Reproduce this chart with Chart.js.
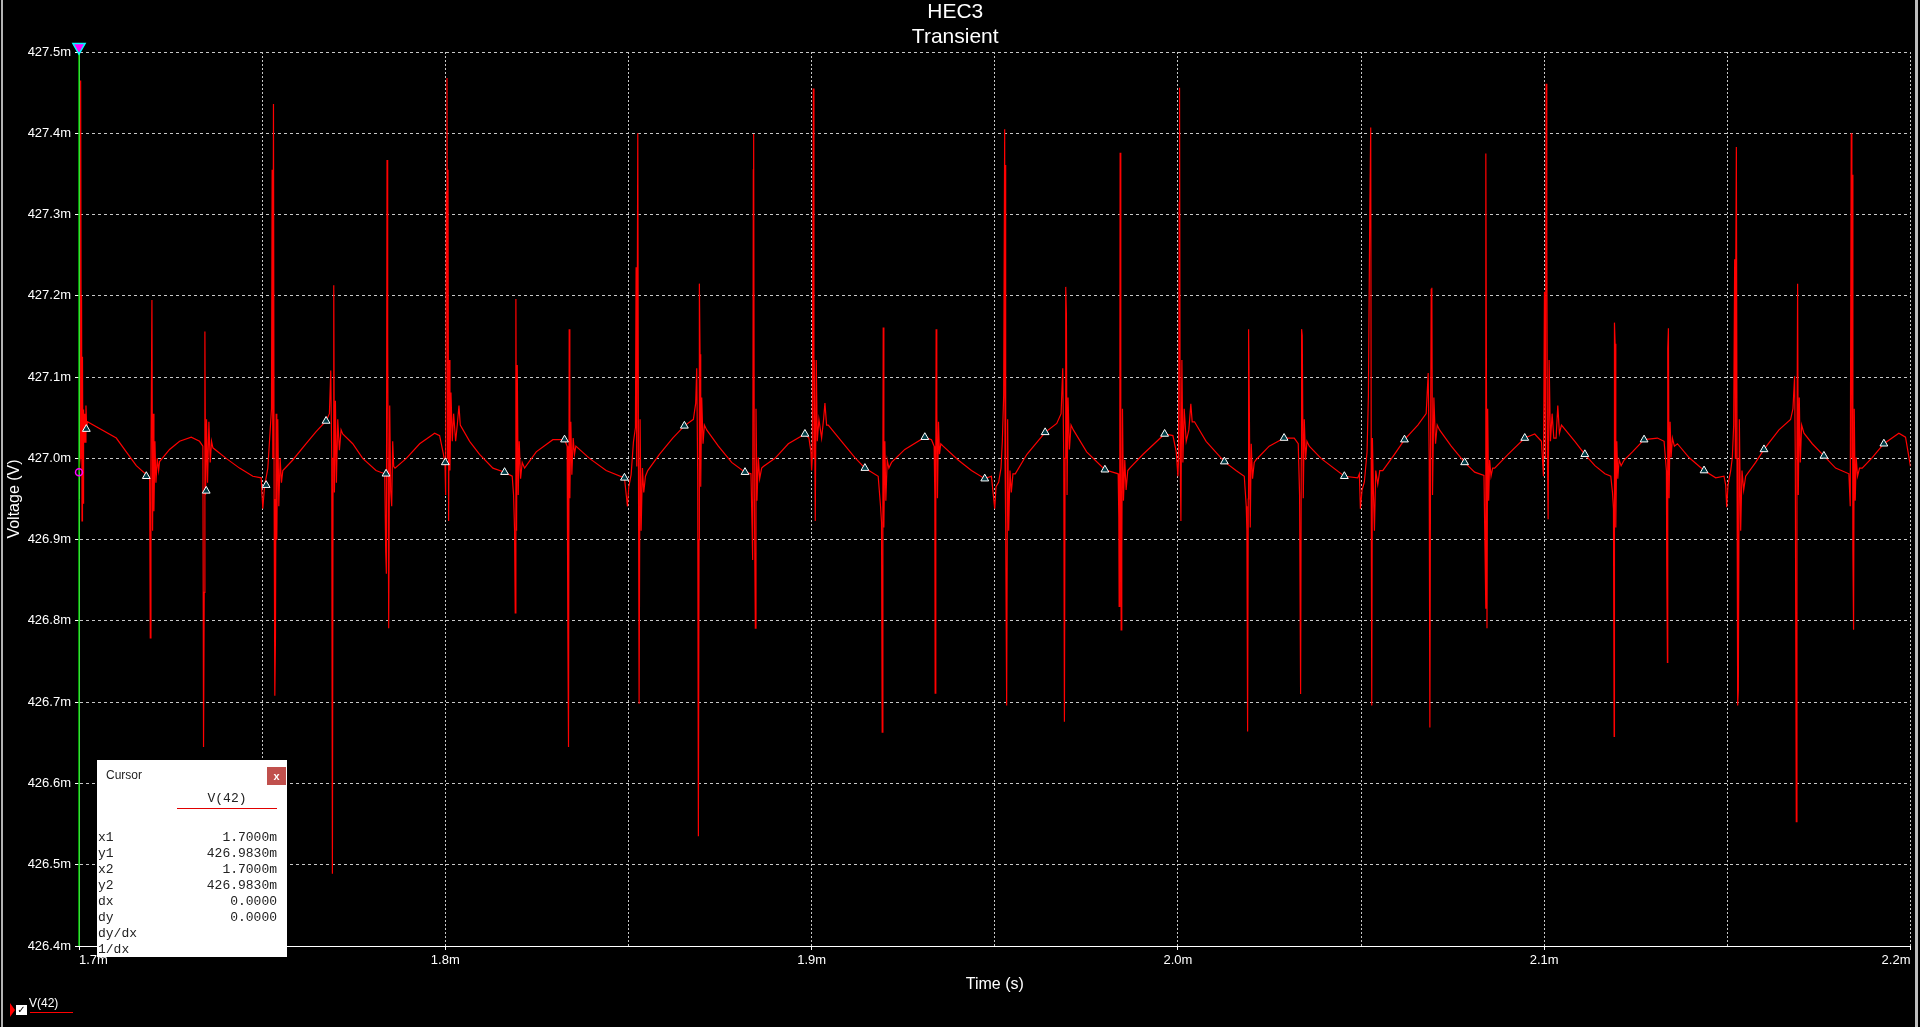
<!DOCTYPE html>
<html>
<head>
<meta charset="utf-8">
<title>HEC3 Transient</title>
<script src="https://cdn.jsdelivr.net/npm/chart.js@4.4.1/dist/chart.umd.min.js"></script>
<style>
  html, body { margin: 0; padding: 0; background: #000; overflow: hidden; }
  #wrap { position: relative; width: 1920px; height: 1027px; background: #000; }
  #chart { position: absolute; left: 0; top: 0; }
  .edge { position: absolute; top: 0; height: 1027px; }
  #cursorBox { position: absolute; left: 97px; top: 760px; width: 190px; height: 197px; background: #fff; }
  #cursorBox .cap { position: absolute; left: 9px; top: 8px; font: 12px "Liberation Sans", Arial, sans-serif; line-height: 14px; color: #222; }
  #cursorBox .close { position: absolute; left: 170px; top: 7px; width: 19px; height: 18px; background: #c0504d; color: #fff;
    font: bold 11px "Liberation Sans", Arial, sans-serif; line-height: 18px; text-align: center; }
  #cursorBox .head { position: absolute; left: 80px; top: 31px; width: 100px; height: 17px; border-bottom: 1px solid #e00000;
    font: 13px "Liberation Mono", "Courier New", monospace; line-height: 16px; text-align: center; color: #222; }
  #cursorBox .rows { position: absolute; left: 1px; top: 70px; width: 179px; font: 13px "Liberation Mono", "Courier New", monospace; line-height: 16px; color: #222; }
  #cursorBox .row { display: flex; justify-content: space-between; height: 16px; }
  #legendBox { position: absolute; left: 0; top: 990px; width: 120px; height: 30px; }
  #legendBox .tri { position: absolute; left: 10px; top: 13px; width: 0; height: 0; border-top: 7px solid transparent; border-bottom: 7px solid transparent; border-left: 5px solid #ff0000; }
  #legendBox .chk { position: absolute; left: 16px; top: 15px; width: 11px; height: 10px; background: #fff; color: #000;
    font: bold 10px "DejaVu Sans", sans-serif; line-height: 10px; text-align: center; }
  #legendBox .name { position: absolute; left: 29px; top: 6px; font: 12px "Liberation Sans", Arial, sans-serif; line-height: 14px; color: #fff; }
  #legendBox .swatch { position: absolute; left: 30px; top: 22px; width: 43px; height: 1px; background: #ff0000; }
</style>
</head>
<body>
<div id="wrap">
  <canvas id="chart" width="1920" height="1027"></canvas>
  <div class="edge" style="left:1px;width:2px;background:#b4b4b4;"></div>
  <div class="edge" style="left:1915px;width:3px;background:#bdbdbd;"></div>
  <div id="cursorBox">
    <div class="cap">Cursor</div>
    <div class="close">x</div>
    <div class="head">V(42)</div>
    <div class="rows">
      <div class="row"><span>x1</span><span>1.7000m</span></div>
      <div class="row"><span>y1</span><span>426.9830m</span></div>
      <div class="row"><span>x2</span><span>1.7000m</span></div>
      <div class="row"><span>y2</span><span>426.9830m</span></div>
      <div class="row"><span>dx</span><span>0.0000</span></div>
      <div class="row"><span>dy</span><span>0.0000</span></div>
      <div class="row"><span>dy/dx</span><span></span></div>
      <div class="row"><span>1/dx</span><span></span></div>
    </div>
  </div>
  <div id="legendBox">
    <div class="tri"></div>
    <div class="chk">&#10003;</div>
    <div class="name">V(42)</div>
    <div class="swatch"></div>
  </div>
</div>
<script>
// V(42) trace, time in ms, voltage in mV (one line per spike burst)
const timeMs = [
  1.70000,1.70030,1.70045,1.70060,1.70070,1.70082,1.70095,1.70110,1.70125,1.70140,1.70160,1.70175,1.70190,1.70210,1.70230,1.71018,1.71291,1.71564,1.71837,1.71909,
  1.71928,1.71946,1.71964,1.71991,1.72009,1.72027,1.72046,1.72073,1.72100,1.72137,1.72173,1.72200,1.72473,1.72746,1.73064,1.73291,1.73382,
  1.73400,1.73418,1.73437,1.73455,1.73482,1.73509,1.73546,1.73582,1.73618,1.73655,1.74018,1.74382,1.74746,1.74973,
  1.75018,1.75064,1.75155,1.75255,1.75273,1.75291,1.75309,1.75327,1.75346,1.75364,1.75382,1.75400,1.75427,1.75455,1.75491,1.75527,1.75564,1.75836,1.76200,1.76473,1.76745,1.76836,
  1.76873,1.76900,1.76918,1.76936,1.76955,1.76973,1.77000,1.77027,1.77064,1.77109,1.77155,1.77200,1.77473,1.77745,1.78109,1.78346,
  1.78373,1.78391,1.78409,1.78427,1.78455,1.78482,1.78509,1.78537,1.78564,1.78591,1.78627,1.78936,1.79300,1.79709,1.79845,1.79936,
  1.79991,1.80009,1.80027,1.80046,1.80064,1.80073,1.80091,1.80109,1.80127,1.80155,1.80191,1.80227,1.80282,1.80327,1.80373,1.80409,1.80664,1.80936,1.81300,1.81618,1.81827,
  1.81864,1.81891,1.81909,1.81927,1.81946,1.81964,1.81991,1.82018,1.82055,1.82100,1.82164,1.82482,1.82936,1.83255,1.83327,
  1.83346,1.83364,1.83382,1.83400,1.83427,1.83455,1.83491,1.83527,1.83564,1.83936,1.84391,1.84891,
  1.84973,1.85009,1.85073,1.85136,1.85191,1.85209,1.85227,1.85255,1.85273,1.85291,1.85318,1.85346,1.85382,1.85418,1.85464,1.85527,1.85845,1.86209,1.86527,1.86773,1.86836,
  1.86864,1.86891,1.86909,1.86927,1.86936,1.86955,1.86973,1.87000,1.87036,1.87073,1.87136,1.87455,1.87818,1.88182,1.88345,
  1.88373,1.88391,1.88409,1.88418,1.88436,1.88464,1.88482,1.88509,1.88546,1.88582,1.88637,1.88682,1.89000,1.89364,1.89818,1.89927,1.89982,
  1.90000,1.90018,1.90046,1.90064,1.90073,1.90100,1.90127,1.90155,1.90200,1.90273,1.90327,1.90364,1.90409,1.90455,1.90818,1.91182,1.91455,1.91818,
  1.91882,1.91909,1.91927,1.91946,1.91955,1.91973,1.92000,1.92027,1.92064,1.92109,1.92182,1.92545,1.93091,1.93273,
  1.93345,1.93364,1.93373,1.93391,1.93400,1.93418,1.93436,1.93464,1.93491,1.93527,1.93591,1.94000,1.94364,1.94727,1.94909,
  1.94999,1.95035,1.95108,1.95171,1.95207,1.95244,1.95271,1.95280,1.95289,1.95307,1.95325,1.95352,1.95380,1.95416,1.95452,1.95497,1.95560,1.95878,1.96376,1.96693,1.96811,
  1.96856,1.96884,1.96902,1.96920,1.96938,1.96956,1.96974,1.97001,1.97038,1.97083,1.97146,1.97509,1.98007,1.98369,
  1.98387,1.98396,1.98414,1.98423,1.98441,1.98450,1.98468,1.98487,1.98514,1.98550,1.98586,1.98632,1.98686,1.99049,1.99638,1.99864,1.99955,
  2.00000,2.00018,2.00036,2.00045,2.00063,2.00082,2.00109,2.00136,2.00172,2.00227,2.00299,2.00353,2.00390,2.00453,2.00770,2.01268,2.01586,2.01812,
  2.01866,2.01884,2.01903,2.01921,2.01930,2.01948,2.01975,2.02002,2.02038,2.02084,2.02129,2.02492,2.02899,2.03176,2.03285,
  2.03322,2.03350,2.03368,2.03377,2.03395,2.03423,2.03450,2.03486,2.03523,2.03587,2.03906,2.04544,2.04909,2.04954,
  2.04982,2.05027,2.05091,2.05164,2.05201,2.05237,2.05264,2.05283,2.05292,2.05310,2.05337,2.05365,2.05401,2.05456,2.05511,2.05593,2.05912,2.06186,2.06550,2.06778,
  2.06833,2.06860,2.06879,2.06897,2.06915,2.06933,2.06951,2.06988,2.07033,2.07079,2.07143,2.07462,2.07827,2.08101,2.08356,
  2.08384,2.08402,2.08411,2.08429,2.08438,2.08457,2.08484,2.08511,2.08548,2.08593,2.08648,2.09013,2.09469,2.09742,2.09925,
  2.09980,2.10007,2.10034,2.10052,2.10071,2.10089,2.10107,2.10134,2.10171,2.10216,2.10262,2.10325,2.10371,2.10416,2.10471,2.10836,2.11110,2.11384,2.11658,2.11818,
  2.11864,2.11891,2.11909,2.11918,2.11936,2.11955,2.11982,2.12009,2.12045,2.12100,2.12182,2.12409,2.12727,2.13091,2.13273,
  2.13336,2.13346,2.13364,2.13373,2.13391,2.13409,2.13437,2.13464,2.13500,2.13555,2.13637,2.13955,2.14364,2.14682,2.14909,
  2.14955,2.14982,2.15018,2.15091,2.15136,2.15173,2.15200,2.15218,2.15227,2.15246,2.15264,2.15282,2.15300,2.15327,2.15364,2.15400,2.15446,2.15500,2.15773,2.16000,2.16409,2.16727,2.16791,
  2.16836,2.16855,2.16882,2.16900,2.16918,2.16937,2.16964,2.16991,2.17028,2.17091,2.17318,2.17636,2.17955,2.18318,
  2.18355,2.18382,2.18400,2.18409,2.18427,2.18446,2.18464,2.18491,2.18518,2.18555,2.18609,2.18682,2.18955,2.19273,2.19682,2.19864,2.20000
];
const voltageMv = [
  426.983,427.000,427.465,427.100,427.200,426.923,427.125,426.945,427.060,427.020,427.055,427.020,427.065,427.036,427.045,427.025,427.008,426.991,426.980,426.978,
  426.975,426.779,426.990,427.195,426.911,427.055,426.935,427.021,426.970,427.000,426.985,426.996,427.011,427.021,427.026,427.021,427.015,
  426.645,426.835,427.156,426.955,427.048,426.970,427.045,426.995,427.021,427.013,427.000,426.988,426.978,426.976,
  426.938,426.965,426.988,427.061,427.355,427.000,427.436,426.950,426.708,426.781,427.055,426.900,427.048,426.941,427.000,426.970,426.985,426.998,427.018,427.033,427.046,427.055,
  427.108,427.000,426.489,427.000,427.213,426.958,427.071,426.970,427.048,427.010,427.035,427.030,427.018,427.000,426.985,426.981,
  426.885,426.858,427.367,427.148,426.791,427.065,426.960,426.941,427.021,426.990,426.988,427.000,427.018,427.031,427.028,427.008,
  426.995,426.955,427.328,427.468,427.000,427.355,426.923,427.121,426.985,427.081,427.021,427.055,427.021,427.041,427.065,427.041,427.021,427.005,426.988,426.983,426.978,
  426.955,426.911,426.810,427.196,426.911,427.115,426.955,427.021,426.975,426.995,426.988,427.008,427.023,427.023,427.015,
  426.785,426.645,427.159,426.951,427.045,426.980,427.025,427.005,427.015,427.000,426.985,426.976,
  426.941,426.965,426.980,427.020,427.038,427.235,426.990,427.400,427.000,426.698,427.048,426.911,426.988,426.958,426.978,426.985,427.005,427.025,427.040,427.048,427.068,
  427.111,426.980,426.535,426.900,427.215,427.128,426.965,427.075,427.018,427.041,427.035,427.015,426.995,426.983,426.981,
  426.918,426.875,427.355,427.399,426.960,426.791,427.061,426.948,427.001,426.975,426.988,426.990,427.000,427.018,427.030,427.025,427.008,
  426.985,427.000,427.455,427.000,427.121,426.923,427.121,427.021,427.048,427.025,427.048,427.068,427.041,427.041,427.021,427.001,426.988,426.978,
  426.941,426.921,426.663,427.000,427.161,426.915,427.021,426.948,426.998,426.988,426.995,427.011,427.026,427.023,
  427.015,426.955,426.711,427.000,427.159,427.061,426.951,427.045,427.005,427.018,427.015,426.998,426.985,426.975,426.978,
  426.938,426.965,426.971,426.988,427.021,427.078,427.405,427.000,427.361,426.920,426.696,427.048,426.911,426.985,426.958,426.981,426.981,427.005,427.032,427.043,427.055,
  427.111,427.000,426.676,427.000,427.211,427.178,426.955,427.075,427.011,427.041,427.035,427.008,426.986,426.981,
  426.928,426.818,427.000,427.376,427.000,426.789,426.881,427.061,426.948,426.998,426.961,426.985,426.988,427.005,427.030,427.028,427.008,
  426.978,427.000,427.315,427.456,427.000,426.923,427.121,426.995,427.061,427.021,427.035,427.067,427.045,427.045,427.021,426.996,426.985,426.978,
  426.941,426.911,426.664,426.950,427.159,427.075,426.915,427.018,426.975,426.995,426.998,427.015,427.025,427.025,427.018,
  426.955,426.710,427.000,427.159,427.151,426.951,427.048,426.998,427.021,427.015,427.000,426.978,426.976,426.981,
  426.938,426.961,426.971,427.008,427.078,427.295,427.407,426.868,426.696,427.025,426.961,426.911,426.985,426.968,426.985,426.985,427.005,427.023,427.041,427.055,
  427.105,427.000,426.669,427.000,427.208,427.210,426.955,427.075,427.018,427.041,427.035,427.015,426.995,426.983,426.979,
  426.888,426.815,427.375,427.000,426.791,427.061,426.948,426.998,426.978,426.988,426.988,427.005,427.025,427.030,427.021,
  426.978,427.205,427.000,427.461,427.271,427.000,426.925,427.121,427.021,427.055,427.025,427.025,427.065,427.031,427.041,427.021,427.005,426.991,426.981,426.978,
  426.958,426.938,426.658,427.167,427.141,426.915,427.021,426.975,426.998,426.991,426.998,427.008,427.023,427.025,427.021,
  426.985,426.868,426.749,427.135,427.160,426.951,427.045,427.001,427.025,427.015,427.018,427.001,426.985,426.976,426.978,
  426.967,426.940,426.967,426.985,427.001,427.041,427.245,427.000,427.208,427.383,427.000,426.696,426.715,427.048,426.911,426.985,426.961,426.978,426.995,427.011,427.035,427.048,427.061,
  427.101,427.000,426.553,427.000,427.215,426.955,427.075,426.995,427.041,427.031,427.018,427.003,426.988,426.981,
  426.941,427.400,427.000,427.349,426.888,426.789,427.061,426.948,427.001,426.978,426.988,426.988,427.001,427.018,427.031,427.026,426.990
];

// triangle markers drawn along the trace
const markerTimeMs = [1.70200,1.71837,1.73473,1.75109,1.76745,1.78382,1.80000,1.81618,1.83255,1.84891,1.86527,1.88182,1.89818,1.91455,1.93091,1.94727,
  1.96376,1.98007,1.99638,2.01268,2.02899,2.04544,2.06186,2.07827,2.09469,2.11110,2.12727,2.14364,2.16000,2.17636,2.19273];
const markerVoltageMv = [427.036,426.978,426.960,426.967,427.046,426.981,426.995,426.983,427.023,426.976,427.040,426.983,427.030,426.988,427.026,426.975,
  427.032,426.986,427.030,426.996,427.025,426.978,427.023,426.995,427.025,427.005,427.023,426.985,427.011,427.003,427.018];

// cursor 1
const cursorTimeMs = 1.7;
const cursorVoltageMv = 426.983;

// axis ranges and labelled ticks
const timeRange = [1.7, 2.2];
const voltRange = [426.4, 427.5];
const timeLabelTicks = [1.7, 1.8, 1.9, 2.0, 2.1, 2.2];

const n = Math.min(timeMs.length, voltageMv.length);
const trace = [];
for (let i = 0; i < n; i++) trace.push({ x: timeMs[i], y: voltageMv[i] });
const markers = markerTimeMs.map((t, i) => ({ x: t, y: markerVoltageMv[i] }));

const isLabelTick = (v) => timeLabelTicks.some((t) => Math.abs(t - v) < 1e-6);
const sans = "'Liberation Sans', Arial, sans-serif";

new Chart(document.getElementById("chart").getContext("2d"), {
  type: "line",
  data: {
    datasets: [
      {
        label: "markers",
        data: markers,
        showLine: false,
        pointStyle: "triangle",
        pointRadius: 4.5,
        pointBorderColor: "#ffffff",
        pointBackgroundColor: "#003c46",
        pointBorderWidth: 1,
      },
      {
        label: "cursor top",
        data: [{ x: cursorTimeMs, y: voltRange[1] + 0.006 }],
        showLine: false,
        pointStyle: "triangle",
        rotation: 180,
        pointRadius: 7,
        pointBackgroundColor: "#ff00ff",
        pointBorderColor: "#00ffff",
        pointBorderWidth: 1.5,
        clip: false,
      },
      {
        label: "cursor point",
        data: [{ x: cursorTimeMs, y: cursorVoltageMv }],
        showLine: false,
        pointStyle: "circle",
        pointRadius: 3.5,
        pointBackgroundColor: "rgba(0,0,0,0)",
        pointBorderColor: "#ff00ff",
        pointBorderWidth: 1.5,
        clip: false,
      },
      {
        label: "cursor line",
        data: [{ x: cursorTimeMs, y: voltRange[0] }, { x: cursorTimeMs, y: voltRange[1] }],
        borderColor: "#00c800",
        borderWidth: 1.5,
        pointRadius: 0,
        clip: false,
      },
      {
        label: "V(42)",
        data: trace,
        borderColor: "#ff0000",
        borderWidth: 1.2,
        pointRadius: 0,
        tension: 0,
      },
    ],
  },
  options: {
    responsive: false,
    animation: false,
    devicePixelRatio: 1,
    layout: { padding: { top: 0, right: 9.5, bottom: 0, left: 0 } },
    plugins: {
      legend: { display: false },
      tooltip: { enabled: false },
      title: {
        display: true,
        text: ["HEC3", "Transient"],
        color: "#ffffff",
        font: { family: sans, size: 21, weight: "normal", lineHeight: "25px" },
        padding: { top: 0, bottom: 2 },
      },
    },
    scales: {
      x: {
        type: "linear",
        min: timeRange[0],
        max: timeRange[1],
        afterFit: (scale) => { scale.height = 81; },
        ticks: {
          stepSize: 0.05,
          autoSkip: false,
          maxRotation: 0,
          align: "inner",
          padding: 3,
          color: "#ffffff",
          font: { family: sans, size: 13 },
          callback: (v) => (isLabelTick(v) ? v.toFixed(1) + "m" : ""),
        },
        grid: {
          color: "#c8c8c8",
          lineWidth: 1,
          tickLength: 4,
          tickColor: (c) => (c.tick && isLabelTick(c.tick.value) ? "#ffffff" : "rgba(0,0,0,0)"),
          tickBorderDash: [],
        },
        border: { display: true, color: "#ffffff", width: 1, dash: [2, 2] },
        title: {
          display: true,
          text: "Time (s)",
          color: "#ffffff",
          font: { family: sans, size: 16, lineHeight: "18px" },
          padding: { top: 0, bottom: 33 },
        },
      },
      y: {
        type: "linear",
        min: voltRange[0],
        max: voltRange[1],
        afterFit: (scale) => { scale.width = 79; },
        ticks: {
          stepSize: 0.1,
          autoSkip: false,
          padding: 4,
          color: "#ffffff",
          font: { family: sans, size: 13 },
          callback: (v) => v.toFixed(1) + "m",
        },
        grid: {
          color: "#c8c8c8",
          lineWidth: 1,
          tickLength: 4,
          tickColor: "#ffffff",
          tickBorderDash: [],
        },
        border: { display: true, color: "#ffffff", width: 1, dash: [3, 3] },
        title: {
          display: true,
          text: "Voltage (V)",
          color: "#ffffff",
          font: { family: sans, size: 16, lineHeight: "18px" },
          padding: { top: 6, bottom: 0 },
        },
      },
    },
  },
});
</script>
</body>
</html>
